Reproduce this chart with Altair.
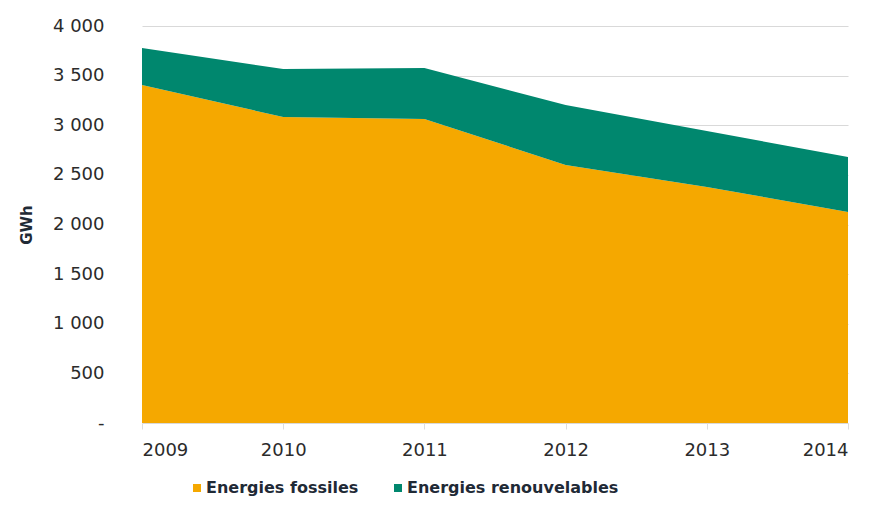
import altair as alt
import pandas as pd

years = [2009, 2010, 2011, 2012, 2013, 2014]
fossiles = [3406, 3083, 3063, 2600, 2378, 2126]
renouvelables = [372, 484, 514, 604, 564, 554]
series = ["Energies fossiles", "Energies renouvelables"]
colors = ["#F5A800", "#00876E"]
y_ticks = [0, 500, 1000, 1500, 2000, 2500, 3000, 3500, 4000]

rows = []
for i, yr in enumerate(years):
    rows.append({"year": yr, "serie": series[0], "value": fossiles[i], "ord": 0})
    rows.append({"year": yr, "serie": series[1], "value": renouvelables[i], "ord": 1})
df = pd.DataFrame(rows)

chart = alt.Chart(df).mark_area(opacity=1).encode(
    x=alt.X("year:Q",
            scale=alt.Scale(domain=[2009, 2014], nice=False, zero=False),
            axis=alt.Axis(values=years, format="d", title=None, grid=False,
                          domain=False, ticks=True, tickColor="#dddddd", tickSize=6,
                          labelPadding=12, labelFontSize=18, labelColor="#2b2b2b",
                          labelFont="DejaVu Sans")),
    y=alt.Y("value:Q", stack="zero",
            scale=alt.Scale(domain=[0, 4000], nice=False),
            axis=alt.Axis(values=y_ticks, title="GWh", grid=True, gridColor="#d9d9d9",
                          domain=False, ticks=False, labelPadding=38,
                          labelFontSize=18, labelColor="#2b2b2b", labelFont="DejaVu Sans",
                          labelExpr="datum.value == 0 ? '-' : replace(format(datum.value, ','), ',', ' ')",
                          titleFont="DejaVu Sans", titleFontSize=15, titleFontWeight="bold",
                          titleColor="#1f2a36", titlePadding=18)),
    color=alt.Color("serie:N",
                    scale=alt.Scale(domain=series, range=colors),
                    legend=alt.Legend(title=None, orient="none", direction="horizontal",
                                      legendX=47, legendY=454, padding=0,
                                      symbolType="square", symbolSize=64,
                                      symbolStrokeWidth=0, labelOffset=1,
                                      columnPadding=31,
                                      labelFont="DejaVu Sans", labelFontSize=16,
                                      labelFontWeight="bold", labelColor="#1f2a36",
                                      labelLimit=400)),
    order=alt.Order("ord:Q"),
).properties(
    width=706,
    height=397,
    background="white",
    autosize=alt.AutoSizeParams(type="none"),
    padding={"left": 142, "top": 26, "right": 32, "bottom": 83},
).configure_view(stroke=None, strokeWidth=0)

chart.save("out.html", embed_options={"renderer": "svg", "actions": False})
